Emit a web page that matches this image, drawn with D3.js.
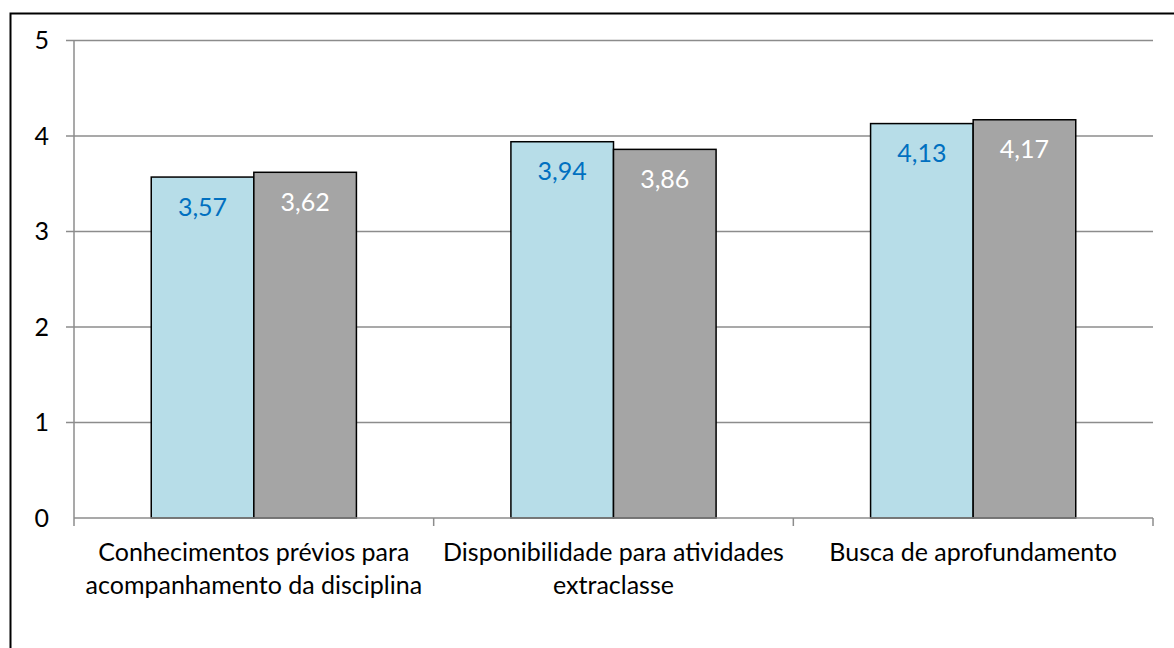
<!DOCTYPE html>
<html lang="pt">
<head>
<meta charset="UTF-8">
<title>Chart</title>
<style>
    body { margin: 0; background: #fff; }
    svg { display: block; }
    text { font-family: Lato, "Open Sans", sans-serif; }
</style>
</head>
<body>
<div id="chart"></div>
<script src="https://cdn.jsdelivr.net/npm/d3@7"></script>
<script>
    // Data
    const categories = [
        ['Conhecimentos prévios para', 'acompanhamento da disciplina'],
        ['Disponibilidade para atividades', 'extraclasse'],
        ['Busca de aprofundamento']
    ];
    const seriesNames = ['Série 1', 'Série 2'];
    const series1 = [3.57, 3.94, 4.13];
    const series2 = [3.62, 3.86, 4.17];
    const yTicks = [0, 1, 2, 3, 4, 5];

    const width = 1174;
    const height = 648;
    const plot = { left: 74, right: 1153, top: 40.5, bottom: 518 };
    const fontSize = 25;

    const colors = ['#b7dde8', '#a5a5a5'];
    const labelColors = ['#0070c0', '#ffffff'];
    const axisColor = '#8c8c8c';

    const catKeys = categories.map((d, i) => i);
    const values = [series1, series2];

    const x0 = d3.scaleBand()
        .domain(catKeys)
        .range([plot.left, plot.right])
        .padding(0);

    const x1 = d3.scaleBand()
        .domain(seriesNames.map((d, i) => i))
        .range([0, x0.bandwidth()])
        .paddingInner(0)
        .paddingOuter(0.753);

    const y = d3.scaleLinear()
        .domain([0, 5])
        .range([plot.bottom, plot.top]);

    const svg = d3.select('#chart')
        .append('svg')
        .attr('width', width)
        .attr('height', height);

    // outer frame (runs off the right and bottom edges)
    svg.append('rect')
        .attr('x', 10.5)
        .attr('y', 13.5)
        .attr('width', width)
        .attr('height', height)
        .attr('fill', 'none')
        .attr('stroke', '#000')
        .attr('stroke-width', 2);

    // gridlines
    svg.append('g')
        .selectAll('line')
        .data(yTicks.filter(d => d > 0))
        .join('line')
        .attr('x1', plot.left - 8)
        .attr('x2', plot.right)
        .attr('y1', d => y(d))
        .attr('y2', d => y(d))
        .attr('stroke', axisColor)
        .attr('stroke-width', 1.5);

    // y axis
    svg.append('line')
        .attr('x1', plot.left).attr('x2', plot.left)
        .attr('y1', y(5)).attr('y2', y(0))
        .attr('stroke', axisColor)
        .attr('stroke-width', 1.5);

    svg.append('g')
        .selectAll('text')
        .data(yTicks)
        .join('text')
        .attr('x', 49)
        .attr('y', d => y(d))
        .attr('dy', '0.35em')
        .attr('text-anchor', 'end')
        .attr('font-size', fontSize)
        .attr('fill', '#000')
        .text(d => d);

    // bars
    const groups = svg.append('g')
        .selectAll('g')
        .data(catKeys)
        .join('g')
        .attr('transform', d => `translate(${x0(d)},0)`);

    groups.selectAll('rect')
        .data(c => values.map((v, s) => ({ s, v: v[c] })))
        .join('rect')
        .attr('x', d => x1(d.s))
        .attr('y', d => y(d.v))
        .attr('width', x1.bandwidth())
        .attr('height', d => y(0) - y(d.v))
        .attr('fill', d => colors[d.s])
        .attr('stroke', '#000')
        .attr('stroke-width', 1.5);

    groups.selectAll('text')
        .data(c => values.map((v, s) => ({ s, v: v[c] })))
        .join('text')
        .attr('x', d => x1(d.s) + x1.bandwidth() / 2)
        .attr('y', d => y(d.v) + 38.5)
        .attr('text-anchor', 'middle')
        .attr('font-size', fontSize)
        .attr('fill', d => labelColors[d.s])
        .text(d => d.v.toFixed(2).replace('.', ','));

    // x axis
    svg.append('line')
        .attr('x1', plot.left).attr('x2', plot.right)
        .attr('y1', y(0)).attr('y2', y(0))
        .attr('stroke', axisColor)
        .attr('stroke-width', 1.5);

    const xTickPos = catKeys.map(d => x0(d)).concat([plot.right]);
    svg.append('g')
        .selectAll('line')
        .data(xTickPos)
        .join('line')
        .attr('x1', d => d).attr('x2', d => d)
        .attr('y1', y(0)).attr('y2', y(0) + 8)
        .attr('stroke', axisColor)
        .attr('stroke-width', 1.5);

    const catLabels = svg.append('g')
        .selectAll('text')
        .data(catKeys)
        .join('text')
        .attr('x', d => x0(d) + x0.bandwidth() / 2)
        .attr('y', 561)
        .attr('text-anchor', 'middle')
        .attr('font-size', fontSize)
        .attr('fill', '#000');

    catLabels.selectAll('tspan')
        .data(d => categories[d])
        .join('tspan')
        .attr('x', function () { return d3.select(this.parentNode).attr('x'); })
        .attr('dy', (d, i) => i === 0 ? 0 : 33)
        .text(d => d);
</script>
</body>
</html>
